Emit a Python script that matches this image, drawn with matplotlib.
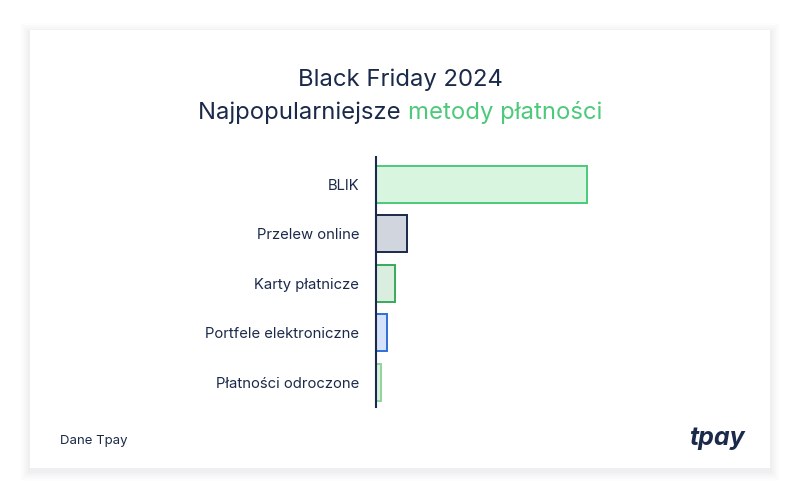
import matplotlib
matplotlib.use("Agg")
import matplotlib.pyplot as plt
from matplotlib.patches import Rectangle

plt.rcParams['font.family'] = ['Inter', 'DejaVu Sans']

categories = ["BLIK", "Przelew online", "Karty płatnicze", "Portfele elektroniczne", "Płatności odroczone"]
values = [69, 10, 6.2, 3.5, 1.6]
fills = ["#d8f5e0", "#d0d5de", "#d9eedf", "#d4e3fb", "#d8f0dc"]
edges = ["#4cc97a", "#1b2a4a", "#3aa95a", "#2f6fd8", "#8fd49f"]

NAVY = "#1b2a4a"
GREEN = "#4cc97a"

W, H = 800, 499
fig = plt.figure(figsize=(8, 4.99), dpi=100, facecolor="white")

# card shadow + card
bg = fig.add_axes([0, 0, 1, 1], zorder=0)
bg.set_xlim(0, W); bg.set_ylim(H, 0); bg.axis("off")
for i, a in enumerate([0.008, 0.01, 0.012, 0.015, 0.018]):
    g = 10 - 2 * i
    bg.add_patch(Rectangle((30 - g, 30 - g + 3), 740 + 2 * g, 438 + 2 * g,
                           facecolor="#1b2a4a", alpha=a, edgecolor="none"))
bg.add_patch(Rectangle((30, 30), 740, 438, facecolor="white", edgecolor="none"))

# bars
ax = fig.add_axes([376 / W, 1 - 407 / H, 324 / W, 250 / H], zorder=2)
ax.patch.set_alpha(0)
ypos = list(range(len(categories)))
ax.barh(ypos, values, height=0.74, color=fills, edgecolor=edges, linewidth=1.4)
ax.set_xlim(0, 106)
ax.set_ylim(4.5, -0.55)
for s in ["top", "right", "bottom"]:
    ax.spines[s].set_visible(False)
ax.spines["left"].set_color(NAVY)
ax.spines["left"].set_linewidth(1.5)
ax.set_xticks([])
ax.set_yticks(ypos)
ax.set_yticklabels(categories, fontsize=10.7, color=NAVY)
ax.tick_params(axis="y", length=0, pad=12)

# title
TFS = 17.2
fig.text(0.5, 1 - 80 / H, "Black Friday 2024", ha="center", va="center",
         fontsize=TFS, color=NAVY)
fig.canvas.draw()
r = fig.canvas.get_renderer()
t1 = fig.text(0, 1 - 113 / H, "Najpopularniejsze ", ha="left", va="center",
              fontsize=TFS, color=NAVY)
t2 = fig.text(0, 1 - 113 / H, "metody płatności", ha="left", va="center",
              fontsize=TFS, color=GREEN)
w1 = t1.get_window_extent(r).width
w2 = t2.get_window_extent(r).width
x0 = (W - (w1 + w2)) / 2
t1.set_x(x0 / W)
t2.set_x((x0 + w1) / W)

fig.text(60 / W, 1 - 441 / H, "Dane Tpay", ha="left", va="center", fontsize=9.5,
         color=NAVY)
fig.text(745 / W, 1 - 438 / H, "tpay", ha="right", va="center", fontsize=18,
         color=NAVY, fontweight="bold", fontstyle="italic")

fig.savefig("out.png", dpi=100, facecolor="white")
